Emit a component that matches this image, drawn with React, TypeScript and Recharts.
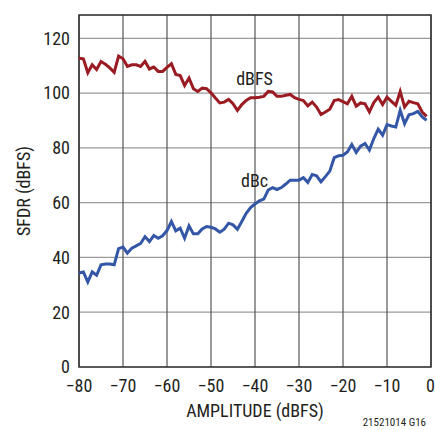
import React from 'react';
import {
  LineChart, Line, XAxis, YAxis, CartesianGrid, ReferenceArea, ReferenceDot,
} from 'recharts';

const amplitude = [
  -80, -79, -78, -77, -76, -75, -74, -73, -72, -71,
  -70, -69, -68, -67, -66, -65, -64, -63, -62, -61,
  -60, -59, -58, -57, -56, -55, -54, -53, -52, -51,
  -50, -49, -48, -47, -46, -45, -44, -43, -42, -41,
  -40, -39, -38, -37, -36, -35, -34, -33, -32, -31,
  -30, -29, -28, -27, -26, -25, -24, -23, -22, -21,
  -20, -19, -18, -17, -16, -15, -14, -13, -12, -11,
  -10, -9, -8, -7, -6, -5, -4, -3, -2, -1,
];

const sfdrDbfs = [
  112.7, 112.5, 107.4, 110.3, 108.6, 111.5, 110.5, 109.2, 107.6, 113.5,
  112.5, 109.7, 110.3, 110.3, 109.7, 111.6, 108.8, 109.5, 107.9, 107.9,
  109.4, 110.7, 106.8, 106.4, 102.8, 105.5, 101.6, 100.6, 101.8, 101.6,
  100.1, 98.2, 96.4, 96.7, 97.7, 96.1, 93.7, 95.8, 97.3, 98.3,
  98.3, 98.5, 98.8, 100.6, 100.4, 98.8, 98.8, 99.2, 99.5, 98.3,
  97.7, 97.3, 95.3, 96.7, 94.9, 92.2, 93.1, 94.1, 97.3, 97.6,
  96.9, 96.1, 98.8, 95.2, 96.4, 96.1, 93.1, 96.5, 98.5, 95.8,
  98.5, 97.0, 95.5, 100.6, 94.9, 97.0, 96.5, 96.1, 93.1, 91.5,
];

const sfdrDbc = [
  34.3, 34.7, 31.0, 34.7, 33.5, 37.3, 37.6, 37.6, 37.3, 43.2,
  43.8, 41.6, 43.4, 44.2, 45.1, 47.6, 45.8, 48.0, 47.0, 47.9,
  49.8, 53.1, 49.7, 50.7, 47.0, 51.5, 48.6, 48.6, 50.4, 51.3,
  51.0, 50.4, 49.2, 50.3, 52.5, 51.9, 50.3, 53.1, 56.1, 58.2,
  59.5, 60.7, 61.3, 64.6, 65.5, 64.8, 65.5, 66.8, 68.2, 68.2,
  68.2, 69.1, 67.4, 70.3, 69.8, 67.6, 69.5, 71.5, 76.4, 77.1,
  77.3, 78.5, 81.2, 78.3, 80.6, 81.6, 79.2, 83.4, 86.8, 84.6,
  88.5, 88.0, 87.6, 93.7, 88.8, 92.1, 92.5, 93.3, 91.3, 90.1,
];

const xTicks = [-80, -70, -60, -50, -40, -30, -20, -10, 0];
const yTicks = [0, 20, 40, 60, 80, 100, 120];

const data = amplitude.map((a, i) => ({ a, dbfs: sfdrDbfs[i], dbc: sfdrDbc[i] }));

const FONT = '"Liberation Sans Narrow", "Arial Narrow", "Roboto Condensed", "Liberation Sans", sans-serif';
const TXT = '#231f20';
const RED = '#9b1b22';
const BLUE = '#3456a6';

const fmtX = (v: number) => (v < 0 ? '\u2212' + Math.abs(v) : String(v));

export default function App() {
  return (
    <div style={{ position: 'absolute', left: 0, top: 0, width: 435, height: 430, background: '#fff' }}>
      <LineChart
        width={435}
        height={430}
        data={data}
        margin={{ top: 15, right: 4, bottom: 0, left: 0 }}
        style={{ fontFamily: FONT }}
      >
        <CartesianGrid vertical={false} stroke="#9a9a9a" strokeWidth={1.2} />
        <CartesianGrid horizontal={false} stroke="#555" strokeWidth={1.2} />
        <XAxis
          dataKey="a"
          type="number"
          domain={[-80, 0]}
          ticks={xTicks}
          tickFormatter={fmtX}
          axisLine={false}
          tickLine={false}
          tickSize={0}
          tickMargin={12}
          height={63}
          tick={{ fill: TXT, fontSize: 18, fontFamily: FONT }}
          label={{ value: 'AMPLITUDE (dBFS)', position: 'center', dy: 12, fill: TXT, fontSize: 18, fontFamily: FONT }}
        />
        <YAxis
          type="number"
          domain={[0, 128.5]}
          ticks={yTicks}
          axisLine={false}
          tickLine={false}
          tickSize={0}
          tickMargin={9}
          width={79}
          tick={{ fill: TXT, fontSize: 18, fontFamily: FONT }}
          label={{ value: 'SFDR (dBFS)', angle: -90, position: 'center', dx: -16, fill: TXT, fontSize: 18, fontFamily: FONT }}
        />
        <ReferenceArea x1={-80} x2={0} y1={0} y2={128.5} fill="none" stroke="#333" strokeWidth={1.5} ifOverflow="visible" />
        <Line type="linear" dataKey="dbfs" stroke={RED} strokeWidth={3} dot={false} isAnimationActive={false} strokeLinejoin="miter" />
        <Line type="linear" dataKey="dbc" stroke={BLUE} strokeWidth={3} dot={false} isAnimationActive={false} strokeLinejoin="miter" />
        <ReferenceDot x={-40.1} y={105.2} r={0} ifOverflow="visible"
          label={{ value: 'dBFS', position: 'center', fill: TXT, fontSize: 18, fontFamily: FONT }} />
        <ReferenceDot x={-40.1} y={68.2} r={0} ifOverflow="visible"
          label={{ value: 'dBc', position: 'center', fill: TXT, fontSize: 18, fontFamily: FONT }} />
      </LineChart>
      <div style={{ position: 'absolute', right: 9, top: 416, fontFamily: FONT, fontSize: 11, color: TXT, lineHeight: '13px', whiteSpace: 'nowrap' }}>
        21521014 G16
      </div>
    </div>
  );
}
